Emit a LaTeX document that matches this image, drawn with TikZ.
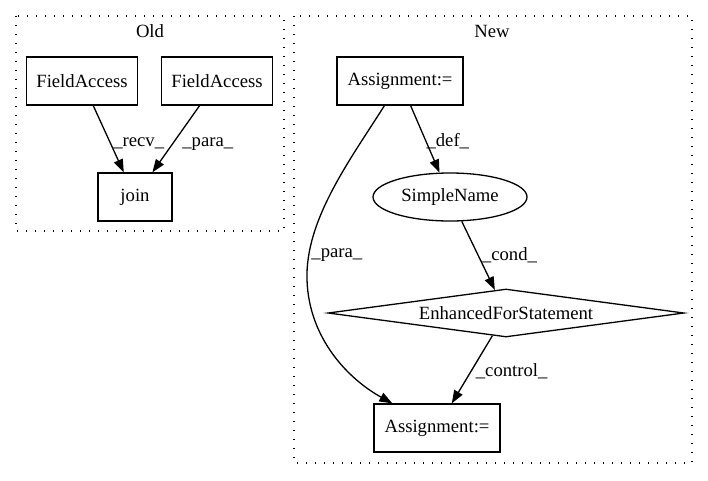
\documentclass[tikz,border=0pt]{standalone}
\usepackage{fontspec}
\setmainfont{Liberation Serif}
\usetikzlibrary{arrows.meta,shapes.geometric}
\begin{document}
\begin{tikzpicture}[
    x=1pt, y=-1pt,
    font=\fontsize{18.67}{22}\selectfont,
    box/.style={draw,line width=1.3pt,rectangle,minimum height=48pt,inner sep=0pt},
    oval/.style={draw,line width=1.3pt,ellipse,minimum width=154pt,minimum height=48pt,inner sep=0pt},
    rhombus/.style={draw,line width=1.3pt,diamond,aspect=7.4,minimum width=356pt,minimum height=48pt,inner sep=0pt},
    cluster/.style={line width=1.3pt,dash pattern=on 1.4pt off 7.6pt},
    edge/.style={line width=1.3pt,-{Triangle[length=13pt,width=9.5pt]}},
    lbl/.style={inner sep=0pt,anchor=west}]
    \useasboundingbox (0,0) rectangle (708,480);

    % Cluster
    \draw[cluster] (16,16) rectangle (284,231);
    \draw[cluster] (294,16) rectangle (692,463);
    \node (old) at (150,31) {Old};
    \node (new) at (492,31) {New};

    % Knoten alt
    \node[box,minimum width=111pt] (fa1) at (82,81) {FieldAccess};
    \node[box,minimum width=111pt] (fa2) at (217,81) {FieldAccess};
    \node[box,minimum width=74pt] (join) at (135,197) {join};

    % Knoten neu
    \node[box,minimum width=126pt] (asg1) at (400,81) {Assignment:=};
    \node[oval] (sname) at (450,197) {SimpleName};
    \node[rhombus] (efor) at (506,313) {EnhancedForStatement};
    \node[box,minimum width=126pt] (asg2) at (437,428) {Assignment:=};

    % Kanten
    \draw[edge] (fa1) -- (join) node[lbl,pos=0.57,xshift=2pt] {\_recv\_};
    \draw[edge] (fa2) -- (join) node[lbl,pos=0.57,xshift=9pt] {\_para\_};
    \draw[edge] (asg1) -- (sname) node[lbl,pos=0.53] {\_def\_};
    \draw[edge] (sname) -- (efor) node[lbl,pos=0.5,xshift=3pt] {\_cond\_};
    \draw[edge] (efor) -- (asg2) node[lbl,pos=0.52,xshift=4pt] {\_control\_};
    \draw[edge] (asg1) .. controls (350,160) and (305,220) .. (307,280)
                node[lbl,pos=0.86,xshift=2pt] {\_para\_}
                .. controls (309,340) and (350,380) .. (asg2);
\end{tikzpicture}
\end{document}
